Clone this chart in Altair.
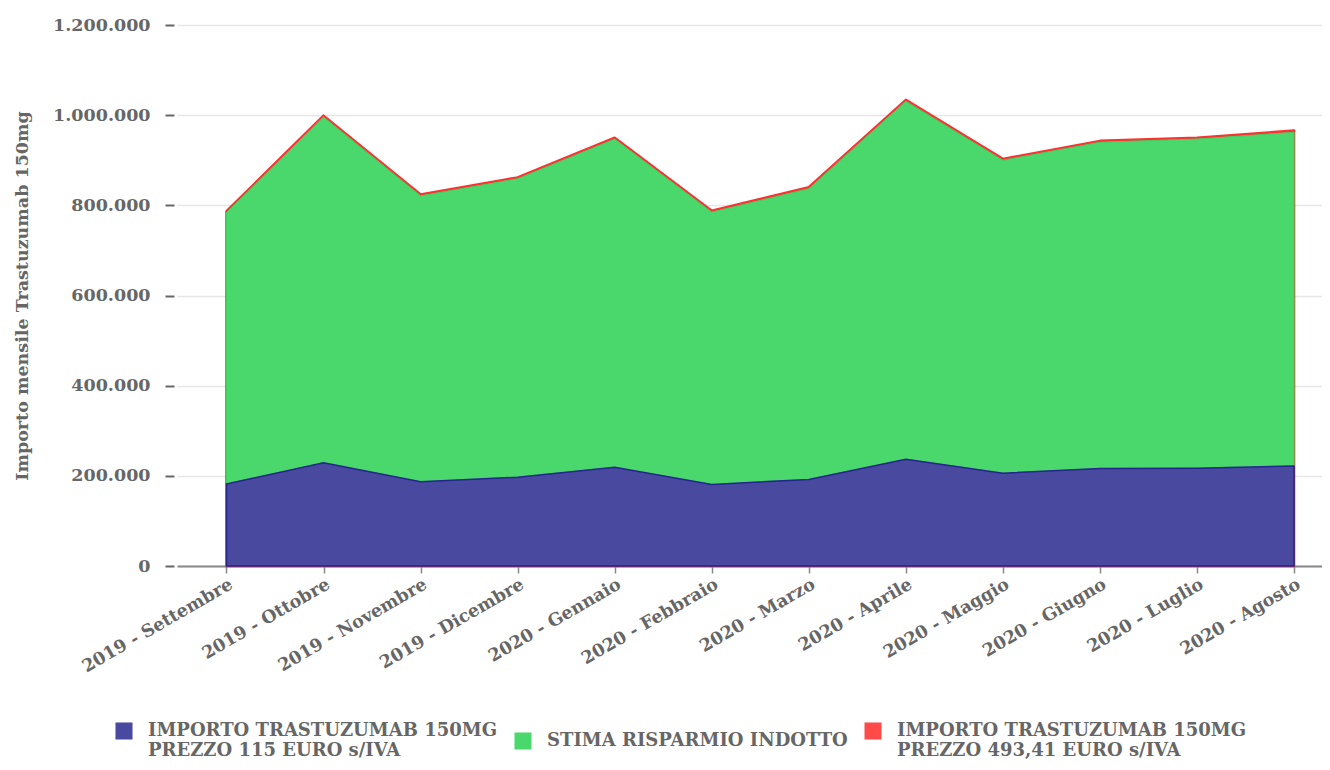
import json
import altair as alt
import pandas as pd

mesi = ["2019 - Settembre", "2019 - Ottobre", "2019 - Novembre", "2019 - Dicembre",
        "2020 - Gennaio", "2020 - Febbraio", "2020 - Marzo", "2020 - Aprile",
        "2020 - Maggio", "2020 - Giugno", "2020 - Luglio", "2020 - Agosto"]

importo_115 = [182000, 229000, 187000, 197000, 219000, 181000, 192000, 237000,
               206000, 216000, 217000, 222000]
risparmio = [602000, 767000, 634000, 662000, 728000, 604000, 645000, 794000,
             694000, 724000, 730000, 740000]
importo_493 = [787000, 999000, 824000, 862000, 950000, 788000, 840000, 1034000,
               903000, 943000, 950000, 966000]

S_BLUE = "IMPORTO TRASTUZUMAB 150MG|PREZZO 115 EURO s/IVA"
S_GREEN = "STIMA RISPARMIO INDOTTO"
S_RED = "IMPORTO TRASTUZUMAB 150MG|PREZZO 493,41 EURO s/IVA"

rows = []
for i, m in enumerate(mesi):
    b, g, r = importo_115[i], risparmio[i], importo_493[i]
    rows.append({"idx": i, "mese": m, "serie": S_RED, "lo": 0, "hi": r})
    rows.append({"idx": i, "mese": m, "serie": S_GREEN, "lo": b, "hi": b + g})
    rows.append({"idx": i, "mese": m, "serie": S_BLUE, "lo": 0, "hi": b})
df = pd.DataFrame(rows)

FONT = "DejaVu Serif"
GRAY = "#666666"

color = alt.Color(
    "serie:N",
    scale=alt.Scale(domain=[S_BLUE, S_GREEN, S_RED],
                    range=["#4949a0", "#4ad86c", "#ff4a4a"]),
    legend=alt.Legend(
        title=None, orient="none", direction="horizontal", columns=3,
        legendX=-62, legendY=697, symbolType="square", symbolSize=290,
        symbolStrokeWidth=0, labelExpr="split(datum.label, '|')",
        labelFont=FONT, labelFontSize=18, labelFontWeight="bold",
        labelColor=GRAY, labelLimit=500, labelOffset=15, columnPadding=16,
        padding=0, symbolOpacity=1,
    ),
)

x = alt.X(
    "idx:Q",
    scale=alt.Scale(domain=[-0.51, 11.288], nice=False, zero=False),
    axis=alt.Axis(
        title=None, values=list(range(len(mesi))),
        labelExpr=json.dumps(mesi) + "[datum.value]",
        labelAngle=-30, labelAlign="right", labelBaseline="top",
        labelFont=FONT, labelFontSize=17.5, labelFontWeight="bold",
        labelColor=GRAY, labelPadding=2, tickSize=7, tickColor="#888888",
        tickWidth=1.5, domainColor="#888888", domainWidth=2, grid=False,
        labelOverlap=False, labelFlush=False,
    ),
)

y_axis = alt.Axis(
    title="Importo mensile Trastuzumab 150mg", titleFont=FONT, titleFontSize=17.5,
    titleFontWeight="bold", titleColor=GRAY, titlePadding=21,
    values=[0, 200000, 400000, 600000, 800000, 1000000, 1200000],
    labelExpr="replace(replace(format(datum.value, ','), ',', '.'), ',', '.')",
    labelFont=FONT, labelFontSize=17.5, labelFontWeight="bold", labelColor=GRAY,
    offset=3, tickSize=9, tickColor=GRAY, tickWidth=2, labelPadding=15,
    domain=False, grid=True, gridColor="#e6e6e6", gridWidth=1.5,
)

base = alt.Chart(df)

red = base.transform_filter(alt.datum.serie == S_RED).mark_area(
    opacity=1, stroke="#ff3030", strokeWidth=2.5, strokeJoin="round"
).encode(
    x=x,
    y=alt.Y("hi:Q", scale=alt.Scale(domain=[0, 1200000], nice=False), axis=y_axis),
    y2="lo:Q",
    color=color,
)

green = base.transform_filter(alt.datum.serie == S_GREEN).mark_area(
    opacity=1, stroke="#3fcf62", strokeWidth=1
).encode(x=x, y="hi:Q", y2="lo:Q", color=color)

blue = base.transform_filter(alt.datum.serie == S_BLUE).mark_area(
    opacity=1, stroke="#25258c", strokeWidth=1.5
).encode(x=x, y="hi:Q", y2="lo:Q", color=color)

chart = alt.layer(red, green, blue).properties(
    width=1145, height=541,
    autosize=alt.AutoSizeParams(type="none"),
    padding={"left": 169, "top": 17, "right": 0, "bottom": 196},
).configure_view(stroke=None)

chart.save("out.html", embed_options={"renderer": "svg", "actions": False})
